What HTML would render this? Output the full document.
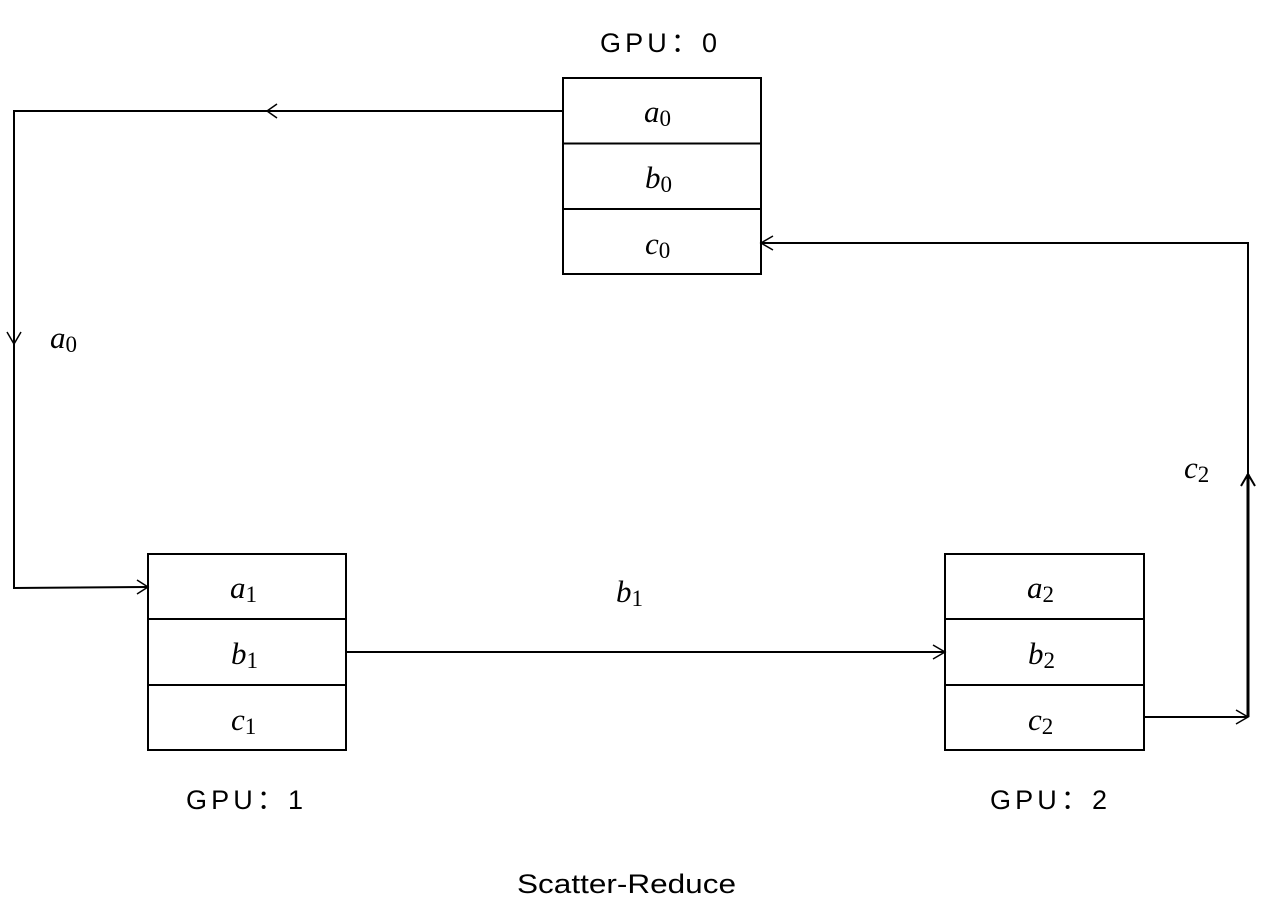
<!DOCTYPE html>
<html><head><meta charset="utf-8"><style>
html,body{margin:0;padding:0;background:#fff;}
svg{display:block;}
.m{font-family:"Liberation Serif",serif;font-style:italic;font-size:31px;}
.s{font-family:"Liberation Serif",serif;font-style:normal;font-size:23px;}
.g{font-family:"Liberation Sans","Noto Sans CJK SC",sans-serif;font-size:27px;}
</style></head><body>
<svg width="1284" height="901" viewBox="0 0 1284 901" xmlns="http://www.w3.org/2000/svg">
<g fill="none" stroke="#000" stroke-width="2">
<rect x="563" y="78" width="198" height="196"/>
<line x1="563" y1="143.5" x2="761" y2="143.5"/>
<line x1="563" y1="209" x2="761" y2="209"/>
<rect x="148" y="554" width="198" height="196"/>
<line x1="148" y1="619" x2="346" y2="619"/>
<line x1="148" y1="685" x2="346" y2="685"/>
<rect x="945" y="554" width="199" height="196"/>
<line x1="945" y1="619" x2="1144" y2="619"/>
<line x1="945" y1="685" x2="1144" y2="685"/>
<polyline points="563,111 14,111 14,588 148,587"/>
<polyline points="277,104 267,111 277,118" stroke-width="1.5"/>
<polyline points="7,332 14,344 21,332" stroke-width="1.5"/>
<polyline points="137,580 148,587 137,594" stroke-width="1.5"/>
<line x1="346" y1="652" x2="945" y2="652"/>
<polyline points="933,645 945,652 933,659" stroke-width="1.5"/>
<polyline points="1144,717 1248,717"/>
<polyline points="1236,710 1248,717 1236,724" stroke-width="1.5"/>
<line x1="1248" y1="717" x2="1248" y2="474" stroke-width="3"/>
<polyline points="1241,486 1248,474 1255,486" stroke-width="2"/>
<polyline points="1248,474 1248,243 761,243"/>
<polyline points="773,236 761,243 773,250" stroke-width="1.5"/>
</g>
<g fill="#000">
<text class="m" x="644" y="122">a<tspan class="s" dy="4">0</tspan></text>
<text class="m" x="645" y="188">b<tspan class="s" dy="4">0</tspan></text>
<text class="m" x="645" y="254">c<tspan class="s" dy="4">0</tspan></text>
<text class="m" x="50" y="348">a<tspan class="s" dy="4">0</tspan></text>
<text class="m" x="230" y="598">a<tspan class="s" dy="4">1</tspan></text>
<text class="m" x="231" y="664">b<tspan class="s" dy="4">1</tspan></text>
<text class="m" x="231" y="730">c<tspan class="s" dy="4">1</tspan></text>
<text class="m" x="616" y="602">b<tspan class="s" dy="4">1</tspan></text>
<text class="m" x="1027" y="598">a<tspan class="s" dy="4">2</tspan></text>
<text class="m" x="1028" y="664">b<tspan class="s" dy="4">2</tspan></text>
<text class="m" x="1028" y="730">c<tspan class="s" dy="4">2</tspan></text>
<text class="m" x="1184" y="478">c<tspan class="s" dy="4">2</tspan></text>
<text class="g" x="600" y="52" textLength="117" lengthAdjust="spacing">GPU：0</text>
<text class="g" x="186" y="809" textLength="117" lengthAdjust="spacing">GPU：1</text>
<text class="g" x="990" y="809" textLength="117" lengthAdjust="spacing">GPU：2</text>
<text class="g" x="517" y="893" textLength="219" lengthAdjust="spacingAndGlyphs">Scatter-Reduce</text>
</g>
</svg>
</body></html>
